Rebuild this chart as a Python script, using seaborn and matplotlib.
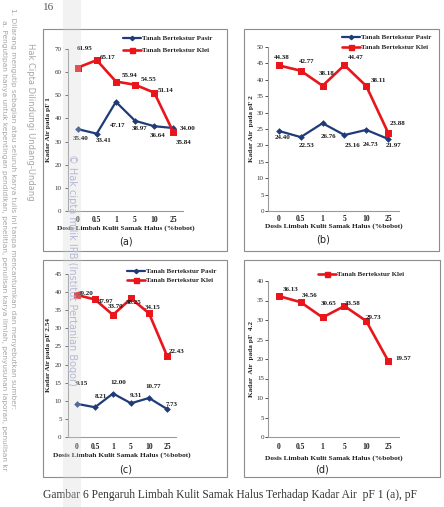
import matplotlib
matplotlib.use("Agg")
import matplotlib.pyplot as plt
from matplotlib.lines import Line2D
from matplotlib.patches import Rectangle
import pandas as pd
import seaborn as sns

# canvas size in pixels
W, H = 444, 507

# data
dosis = ["0", "0.5", "1", "5", "10", "25"]

pf1_pasir = [35.40, 33.41, 47.17, 38.97, 36.64, 35.84]
pf1_klei = [61.95, 65.17, 55.94, 54.55, 51.14, 34.00]
pf2_pasir = [24.40, 22.53, 26.76, 23.16, 24.73, 21.97]
pf2_klei = [44.38, 42.77, 38.18, 44.47, 38.11, 23.88]
pf254_pasir = [9.15, 8.21, 12.00, 9.31, 10.77, 7.73]
pf254_klei = [39.20, 37.97, 33.70, 38.25, 34.15, 22.43]
pf42_klei = [36.13, 34.56, 30.65, 33.58, 29.73, 19.57]

label_pasir = "Tanah Bertekstur Pasir"
label_klei = "Tanah Bertekstur Klei"
xlabel = "Dosis Limbah Kulit Samak Halus (%bobot)"
caption = "Gambar 6 Pengaruh Limbah Kulit Samak Halus Terhadap Kadar Air  pF 1 (a), pF"

# label offsets (pixels) for the value labels
off_a_pasir = [(3, -9), (7, -7), (2, -24), (5, -8), (3, -9), (10, -14)]
off_a_klei = [(7, 19), (11, 3), (14, 6), (14, 5), (11, 2), (14, 4)]
off_b_pasir = [(4, -7), (6, -8), (6, -13), (8, -10), (4, -15), (5, -7)]
off_b_klei = [(3, 8), (6, 9), (4, 12), (11, 8), (12, 5), (9, 9)]
off_c_pasir = [(5, 20), (6, 11), (5, 11), (5, 8), (4, 11), (5, 5)]
off_c_klei = [(9, 2), (11, -2), (3, 8), (3, -4), (4, 6), (10, 4)]
off_d_klei = [(12, 7), (9, 7), (6, 14), (8, 3), (7, 4), (15, 2)]

BLUE = "#1F3B78"
RED = "#E8161B"
SERIF = ["Liberation Serif", "DejaVu Serif"]

sns.set_theme(style="white")
plt.rcParams["font.family"] = SERIF

fig = plt.figure(figsize=(W / 100, H / 100), dpi=100)


def px_rect(x0, y0, x1, y1):
    return [x0 / W, 1 - y1 / H, (x1 - x0) / W, (y1 - y0) / H]


series_style = {
    "pasir": dict(color=BLUE, marker="D", markersize=2.2, linewidth=1.6),
    "klei": dict(color=RED, marker="s", markersize=3.6, linewidth=1.9),
}

panels = [
    dict(box=(43, 29, 227, 251), ax=(68, 49, 183, 211), ymax=70, step=10,
         ylabel="Kadar Air pada pF 1", ylab_x=48, ypad=2.5,
         series=[("pasir", pf1_pasir, off_a_pasir), ("klei", pf1_klei, off_a_klei)],
         legend=(123, 35.5, 0.85), letter="(a)", letter_xy=(126, 242),
         tick_y=220, xlab_y=229),
    dict(box=(244, 29, 439, 251), ax=(268, 47, 399, 211), ymax=50, step=5,
         ylabel="Kadar Air  pada pF 2", ylab_x=251, ypad=1,
         series=[("pasir", pf2_pasir, off_b_pasir), ("klei", pf2_klei, off_b_klei)],
         legend=(342, 34.5, 0.55), letter="(b)", letter_xy=(323, 240),
         tick_y=219, xlab_y=227),
    dict(box=(43, 260, 227, 477), ax=(68, 274, 176, 437), ymax=45, step=5,
         ylabel="Kadar Air pada pF 2.54", ylab_x=48, ypad=2.5,
         series=[("pasir", pf254_pasir, off_c_pasir), ("klei", pf254_klei, off_c_klei)],
         legend=(127, 268.5, 0.45), letter="(c)", letter_xy=(126, 470),
         tick_y=447, xlab_y=456),
    dict(box=(244, 260, 440, 477), ax=(268, 281, 399, 437), ymax=40, step=5,
         ylabel="Kadar  Air  pada pF  4.2", ylab_x=251, ypad=1,
         series=[("klei", pf42_klei, off_d_klei)],
         legend=(318, 271.5, 0.5), letter="(d)", letter_xy=(322, 470),
         tick_y=447, xlab_y=459),
]

for p in panels:
    bx0, by0, bx1, by1 = p["box"]
    fig.patches.append(Rectangle((bx0 / W, 1 - by1 / H), (bx1 - bx0) / W, (by1 - by0) / H,
                                 transform=fig.transFigure, fill=False,
                                 edgecolor="#8C8C8C", linewidth=0.8))

    x0, y0, x1, y1 = p["ax"]
    ax = fig.add_axes(px_rect(x0, y0, x1, y1))
    ax.set_facecolor("none")

    handles, labels = [], []
    for key, vals, offs in p["series"]:
        st = series_style[key]
        df = pd.DataFrame({"dosis": dosis, "kadar": vals})
        sns.pointplot(data=df, x="dosis", y="kadar", order=dosis, errorbar=None,
                      color=st["color"], marker=st["marker"],
                      markersize=st["markersize"], linewidth=st["linewidth"], ax=ax)
        for i, v in enumerate(vals):
            ax.annotate(f"{v:.2f}", (i, v), xytext=offs[i], textcoords="offset pixels",
                        ha="center", va="center", fontsize=5, fontweight="bold",
                        color="#1A1A1A")
        handles.append(Line2D([], [], color=st["color"], marker=st["marker"],
                              markersize=st["markersize"], linewidth=st["linewidth"]))
        labels.append(label_pasir if key == "pasir" else label_klei)

    ax.set_xlim(-0.5, len(dosis) - 0.5)
    ax.set_ylim(0, p["ymax"])
    ax.set_yticks(range(0, p["ymax"] + 1, p["step"]))
    ax.tick_params(axis="y", length=2, width=0.6, pad=p["ypad"], labelsize=5,
                   colors="#333333", direction="out", left=True)
    ax.tick_params(axis="x", length=0, labelsize=5.5, colors="#222222",
                   pad=(p["tick_y"] - y1) * 0.72 - 3)
    for t in ax.get_xticklabels():
        t.set_fontweight("bold")
    sns.despine(ax=ax)
    for s in ("left", "bottom"):
        ax.spines[s].set_color("#9A9A9A")
        ax.spines[s].set_linewidth(0.8)

    ax_h = y1 - y0
    ax_w = x1 - x0
    ax.set_ylabel(p["ylabel"], fontsize=5.2, fontweight="bold", color="#222222")
    ax.yaxis.set_label_coords(-(x0 - p["ylab_x"] - 3) / ax_w, 0.5)
    ax.set_xlabel(xlabel, fontsize=5.3, fontweight="bold", color="#222222")
    ax.xaxis.set_label_coords(0.5, -(p["xlab_y"] - 3.5 - y1) / ax_h)

    lx, ly, lsp = p["legend"]
    fig.legend(handles, labels, loc="upper left", bbox_to_anchor=(lx / W, 1 - ly / H),
               frameon=False, borderpad=0, borderaxespad=0, handlelength=2.6,
               handletextpad=0.15, labelspacing=lsp,
               prop=dict(family=SERIF, weight="bold", size=5))

    fig.text(p["letter_xy"][0] / W, 1 - p["letter_xy"][1] / H, p["letter"],
             ha="center", va="center", fontsize=7, family="DejaVu Sans", color="#222222")

# page number and caption
fig.text(43 / W, 1 - 8 / H, "16", fontsize=8, color="#555555", va="center", ha="left")
fig.text(43 / W, 1 - 495 / H, caption, fontsize=8.3, color="#333333", va="center", ha="left")

# watermark band and text
fig.patches.append(Rectangle((63 / W, 0), 18 / W, 1, transform=fig.transFigure,
                             facecolor="#D6D6D6", alpha=0.3, edgecolor="none", zorder=10))
fig.text(72 / W, 1 - 270 / H, "\u00a9 Hak cipta milik IPB (Institut Pertanian Bogor)",
         rotation=270, ha="center", va="center", fontsize=7, family="DejaVu Sans",
         color="#B4B8D4", zorder=11)

# side notice
fig.text(30 / W, 1 - 43 / H, "Hak Cipta Dilindungi Undang-Undang", rotation=270,
         ha="center", va="top", fontsize=6, family="DejaVu Sans", color="#A5A5A5")
fig.text(13 / W, 1 - 8 / H,
         "1. Dilarang mengutip sebagian atau seluruh karya tulis ini tanpa mencantumkan dan menyebutkan sumber:",
         rotation=270, ha="center", va="top", fontsize=5.3, family="DejaVu Sans", color="#A5A5A5")
fig.text(4 / W, 1 - 20 / H,
         "a. Pengutipan hanya untuk kepentingan pendidikan, penelitian, penulisan karya ilmiah, penyusunan laporan, penulisan kr",
         rotation=270, ha="center", va="top", fontsize=5.3, family="DejaVu Sans", color="#A5A5A5")

fig.savefig("out.png", dpi=100)
plt.close(fig)
